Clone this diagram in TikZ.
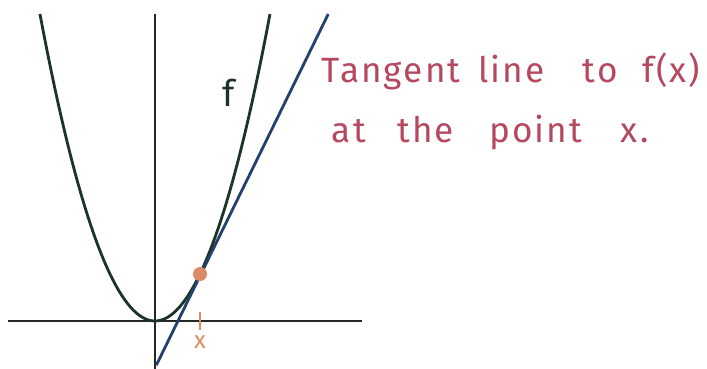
\documentclass[tikz,border=0pt]{standalone}
\usepackage{fontspec}
\setmainfont{Fira Sans}
\definecolor{curvegreen}{HTML}{1C3326}
\definecolor{tanblue}{HTML}{23406E}
\definecolor{dotorange}{HTML}{DA8C66}
\definecolor{notered}{HTML}{B5485E}
\begin{document}
\begin{tikzpicture}[x=1.125cm, y=1.175cm, line width=2pt,
    note/.style={text=notered, font=\fontsize{25}{29}\selectfont\addfontfeatures{LetterSpace=6}, inner sep=0pt, anchor=west}]
    \useasboundingbox (-3.444,-1.021) rectangle (12.267,6.83);

    % Axes
    \coordinate (xl) at (-3.27,0);
    \coordinate (xr) at (4.6,0);
    \coordinate (yb) at (0,-1.02);
    \coordinate (yt) at (0,6.53);
    \draw[black!85] (xl) -- (xr);
    \draw[black!85] (yb) -- (yt);

    % Curve and tangent line
    \draw[curvegreen] plot[domain=-2.556:2.556, samples=80] (\x,\x*\x);
    \coordinate (tb) at (0.03,-0.94);
    \coordinate (tt) at (3.85,6.53);
    \draw[tanblue] (tb) -- (tt);

    % Point x
    \node[circle, fill=dotorange, inner sep=0pt, minimum size=10pt] (P) at (1,1) {};
    \coordinate (ta) at (1,0.2);
    \coordinate (tc) at (1,-0.2);
    \draw[dotorange, line width=1.5pt] (ta) -- (tc);
    \node[text=dotorange, font=\LARGE] (xlab) at (1,-0.45) {x};

    % Labels
    \node[text=curvegreen, font=\fontsize{26}{30}\selectfont] (f) at (1.63,4.85) {f};
    \node[note] (l1) at (3.67,5.32) {Tangent\hspace{0.5em}line\hspace{1.1em}to\hspace{0.7em}f(x)};
    \node[note] (l2) at (3.9,4.0) {at\hspace{0.9em}the\hspace{1em}point\hspace{1.1em}x.};
\end{tikzpicture}
\end{document}
